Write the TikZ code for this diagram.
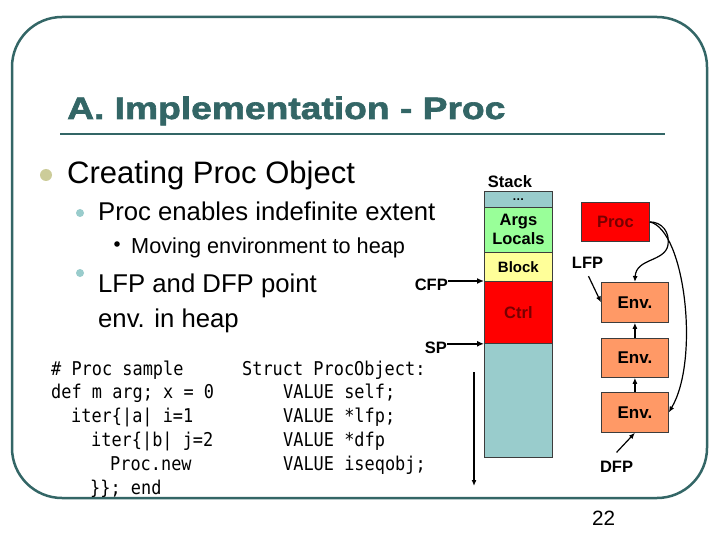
\documentclass[tikz,border=0pt]{standalone}
\usepackage{fontspec}
\setmainfont{Liberation Sans}
\newfontfamily\titlefont[FakeStretch=1.2,FakeBold=2]{Liberation Sans}
\newfontfamily\codefont[FakeStretch=0.89]{DejaVu Sans Mono}
\usetikzlibrary{arrows.meta,calc}
\definecolor{frameteal}{RGB}{51,102,102}
\definecolor{bulletone}{RGB}{204,204,153}
\definecolor{bullettwo}{RGB}{153,204,204}
\definecolor{stackteal}{RGB}{153,204,204}
\definecolor{argsgreen}{RGB}{153,255,153}
\definecolor{blockyellow}{RGB}{255,255,153}
\definecolor{ctrlred}{RGB}{255,0,0}
\definecolor{envsalmon}{RGB}{255,153,102}
\definecolor{darkred}{RGB}{120,0,0}
\definecolor{celline}{RGB}{60,60,60}
\tikzset{
  txt/.style={inner sep=0pt, anchor=base west},
  codetxt/.style={txt, font=\codefont\fontsize{19}{19}\selectfont},
  cell/.style={draw=celline, line width=0.8pt, inner sep=0pt, minimum width=68pt, anchor=north west, align=center, font=\bfseries\fontsize{16.5}{19}\selectfont},
  heapbox/.style={draw=celline, line width=0.8pt, inner sep=0pt, minimum width=67pt, anchor=north west, align=center, font=\bfseries\fontsize{17}{19}\selectfont},
  lbl/.style={inner sep=0pt, font=\bfseries\fontsize{16.5}{19}\selectfont},
  bigarr/.style={line width=2.2pt, -{Latex[length=7pt,width=6pt]}},
  midarr/.style={line width=1.8pt, -{Latex[length=6pt,width=5pt]}},
  thinarr/.style={line width=1.2pt, -{Latex[length=6pt,width=5pt]}},
}
\begin{document}
\begin{tikzpicture}[x=1pt,y=-1pt]
\useasboundingbox (0,0) rectangle (720,540);
\fill[white] (0,0) rectangle (720,540);
% frame
\draw[frameteal, line width=2.5pt, rounded corners=50pt] (12,17) rectangle (707,498);
% title
\node[txt, text=frameteal, font=\titlefont\bfseries\fontsize{31}{31}\selectfont] (title) at (67,119) {A. Implementation - Proc};
\draw[frameteal, line width=2.5pt] (60,134) -- (665,134);
% bullets
\fill[bulletone] (46,175) circle (6);
\node[txt, font=\fontsize{31}{31}\selectfont] (t1) at (67,184) {Creating Proc Object};
\fill[bullettwo] (80,213) circle (4);
\node[txt, font=\fontsize{25.7}{26}\selectfont] (t2) at (98,221) {Proc enables indefinite extent};
\fill[black] (117,244) circle (2.8);
\node[txt, font=\fontsize{21.7}{22}\selectfont] (t3) at (131,253) {Moving environment to heap};
\fill[bullettwo] (80,273) circle (4);
\node[txt, font=\fontsize{25.7}{26}\selectfont] (t4) at (98,292) {LFP and DFP point};
\node[txt, font=\fontsize{25.7}{26}\selectfont] (t5) at (98,327) {env. in heap};
% code left
\node[codetxt] (c1) at (51,375) {\# Proc sample};
\node[codetxt] (c2) at (51,398.8) {def m arg; x = 0};
\node[codetxt] (c3) at (71,422.6) {iter\{|a| i=1};
\node[codetxt] (c4) at (91,446.4) {iter\{|b| j=2};
\node[codetxt] (c5) at (110,470.2) {Proc.new};
\node[codetxt] (c6) at (90,494) {\}\}; end};
% code right
\node[codetxt] (s1) at (242,375) {Struct ProcObject:};
\node[codetxt] (s2) at (283,398.8) {VALUE self;};
\node[codetxt] (s3) at (283,422.6) {VALUE *lfp;};
\node[codetxt] (s4) at (283,446.4) {VALUE *dfp};
\node[codetxt] (s5) at (283,470.2) {VALUE iseqobj;};
% stack
\node[lbl, anchor=base] (stacklbl) at (510,188) {Stack};
\node[cell, fill=stackteal, minimum height=16pt, font=\bfseries\fontsize{12}{12}\selectfont] (dots) at (484,191) {…};
\node[cell, fill=argsgreen, minimum height=45pt] (args) at (484,207) {Args\\Locals};
\node[cell, fill=blockyellow, minimum height=29pt, font=\bfseries\fontsize{15}{17}\selectfont] (block) at (484,252) {Block};
\node[cell, fill=ctrlred, minimum height=62pt, text=darkred] (ctrl) at (484,281) {Ctrl};
\node[cell, fill=stackteal, minimum height=114pt] (rest) at (484,343) {};
% CFP / SP
\node[lbl, anchor=base east] (cfp) at (448,290) {CFP};
\node[lbl, anchor=base east] (sp) at (447,353) {SP};
\draw[bigarr] (cfp.east |- ctrl.north west) -- (ctrl.north west);
\draw[bigarr] (sp.east |- ctrl.south west) -- (ctrl.south west);
\coordinate (growtop) at (474,372);
\coordinate (growbot) at (474,486);
\draw[thinarr] (growtop) -- (growbot);
% heap
\node[cell, fill=ctrlred, minimum height=39pt, text=darkred] (proc) at (581,202) {Proc};
\node[heapbox, fill=envsalmon, minimum height=40pt] (env1) at (601,282) {Env.};
\node[heapbox, fill=envsalmon, minimum height=39pt] (env2) at (601,338) {Env.};
\node[heapbox, fill=envsalmon, minimum height=40pt] (env3) at (601,392) {Env.};
\draw[midarr] (env2.north) -- (env1.south);
\draw[midarr] (env3.north) -- (env2.south);
\node[lbl, anchor=base] (lfp) at (587.5,268) {LFP};
\node[lbl, anchor=base] (dfp) at (616.5,472) {DFP};
\draw[thinarr] ($(lfp.south)+(1,8)$) -- (env1.west);
\draw[thinarr] ($(dfp.north)+(0,-8)$) -- (env3.south);
\draw[thinarr] (proc.east) .. controls (662,222) and (670,232) .. (668,245) .. controls (665,262) and (636,258) .. (env1.north);
\draw[thinarr] (proc.east) .. controls (685,230) and (700,360) .. (env3.east);
% page number
\node[txt, font=\fontsize{20.7}{21}\selectfont] (pnum) at (592,525) {22};
\end{tikzpicture}
\end{document}
